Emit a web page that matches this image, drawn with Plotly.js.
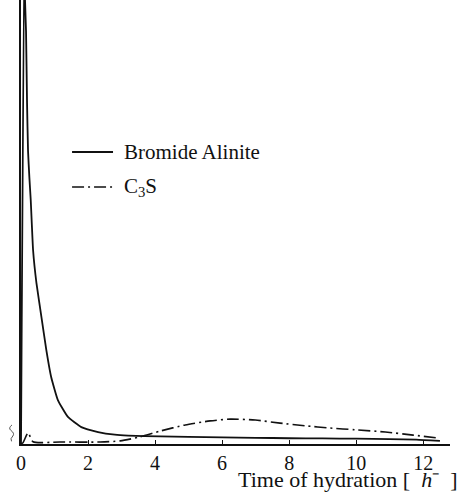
<!DOCTYPE html>
<html>
<head>
<meta charset="utf-8">
<script src="https://cdn.plot.ly/plotly-3.0.1.min.js"></script>
<style>
  html, body { margin: 0; padding: 0; background: #fff; }
  #chart { width: 462px; height: 492px; }
</style>
</head>
<body>
<div id="chart"></div>
<script>
// Rate of heat evolution (arbitrary units) versus hydration time in hours
const seriesNames = ["Bromide Alinite", "C<sub>3</sub>S"];

const alinite_t = [0, 0.1, 0.12, 0.15, 0.18, 0.21, 0.25, 0.29, 0.36, 0.46, 0.61, 0.755, 0.9, 1.1, 1.4, 1.8, 2.3, 2.8, 3.2, 4.15, 5, 6, 7, 8, 9, 10, 11, 11.8, 12.5];
const alinite_v = [0, 115, 100, 93, 77, 66, 60, 55, 43.7, 36.3, 28.6, 21.2, 15.1, 9.9, 6.1, 3.8, 2.7, 2.1, 1.9, 1.7, 1.6, 1.5, 1.4, 1.3, 1.25, 1.2, 1.1, 1.0, 0.7];

const c3s_t = [0, 0.06, 0.21, 0.36, 1.16, 2.36, 2.96, 3.55, 4.15, 4.9, 5.64, 6.24, 6.99, 7.73, 8.48, 9.22, 9.97, 10.87, 11.7, 12.45];
const c3s_v = [0, 0.3, 2.5, 0.5, 0.45, 0.45, 0.7, 1.6, 2.9, 4.3, 5.2, 5.6, 5.4, 4.7, 4.1, 3.6, 3.2, 2.7, 2.0, 1.35];

const tickVals = [0, 2, 4, 6, 8, 10, 12];
const tickText = ["0", "2", "4", "6", "8", "10", "12"];
const xTitle = "Time of hydration [&nbsp; <i>h</i>\u207B&nbsp; ]";

const serif = "Liberation Serif, Times New Roman, serif";
const ink = "#111";

const solidLine = { color: ink, width: 1.8 };
const dashLine = { color: ink, width: 1.6, dash: "12px,4px,2px,4px" };

const traces = [
  { x: alinite_t, y: alinite_v, name: seriesNames[0], type: "scatter", mode: "lines",
    line: Object.assign({ shape: "spline", smoothing: 0.4 }, solidLine) },
  { x: c3s_t, y: c3s_v, name: seriesNames[1], type: "scatter", mode: "lines",
    line: Object.assign({ shape: "spline", smoothing: 0.6 }, dashLine) }
];

// Legend drawn as key lines plus labels inside the plot area
const keyX0 = 0.119, keyX1 = 0.2145, labelX = 0.2354;
const keyRowsY = [0.6577, 0.5788];
const keyStyles = [solidLine, dashLine];

const shapes = keyRowsY.map((y, i) => ({
  type: "line", xref: "paper", yref: "paper",
  x0: keyX0, x1: keyX1, y0: y, y1: y,
  line: keyStyles[i]
}));

// small break mark left of the origin
shapes.push({
  type: "path", xref: "paper", yref: "paper",
  path: "M -0.021 0.043 Q -0.03 0.036 -0.024 0.031 Q -0.014 0.024 -0.019 0.018 Q -0.026 0.012 -0.022 0.006",
  line: { color: "#555", width: 1 }
});

const annotations = keyRowsY.map((y, i) => ({
  xref: "paper", yref: "paper", x: labelX, y: y,
  xanchor: "left", yanchor: "middle",
  text: seriesNames[i], showarrow: false,
  font: { family: serif, size: 21, color: ink }
}));

annotations.push({
  xref: "paper", yref: "paper", x: 1, y: 0,
  xanchor: "right", yanchor: "middle", xshift: 9, yshift: -35,
  text: xTitle, showarrow: false,
  font: { family: serif, size: 22, color: ink }
});

const layout = {
  width: 462, height: 492,
  margin: { l: 21, r: 12, t: 0, b: 48 },
  paper_bgcolor: "#fff", plot_bgcolor: "#fff",
  font: { family: serif, color: ink, size: 19 },
  showlegend: false,
  xaxis: {
    range: [0, 12.8],
    tickvals: tickVals, ticktext: tickText,
    ticks: "inside", ticklen: 4, tickwidth: 1, tickcolor: ink,
    showline: true, linecolor: ink, linewidth: 2,
    showgrid: false, zeroline: false,
    tickfont: { family: serif, size: 20, color: ink }
  },
  yaxis: {
    range: [0, 100],
    showline: true, linecolor: ink, linewidth: 1.6,
    showticklabels: false, ticks: "",
    showgrid: false, zeroline: false
  },
  shapes: shapes,
  annotations: annotations
};

Plotly.newPlot("chart", traces, layout, { staticPlot: true, displayModeBar: false });
</script>
</body>
</html>
